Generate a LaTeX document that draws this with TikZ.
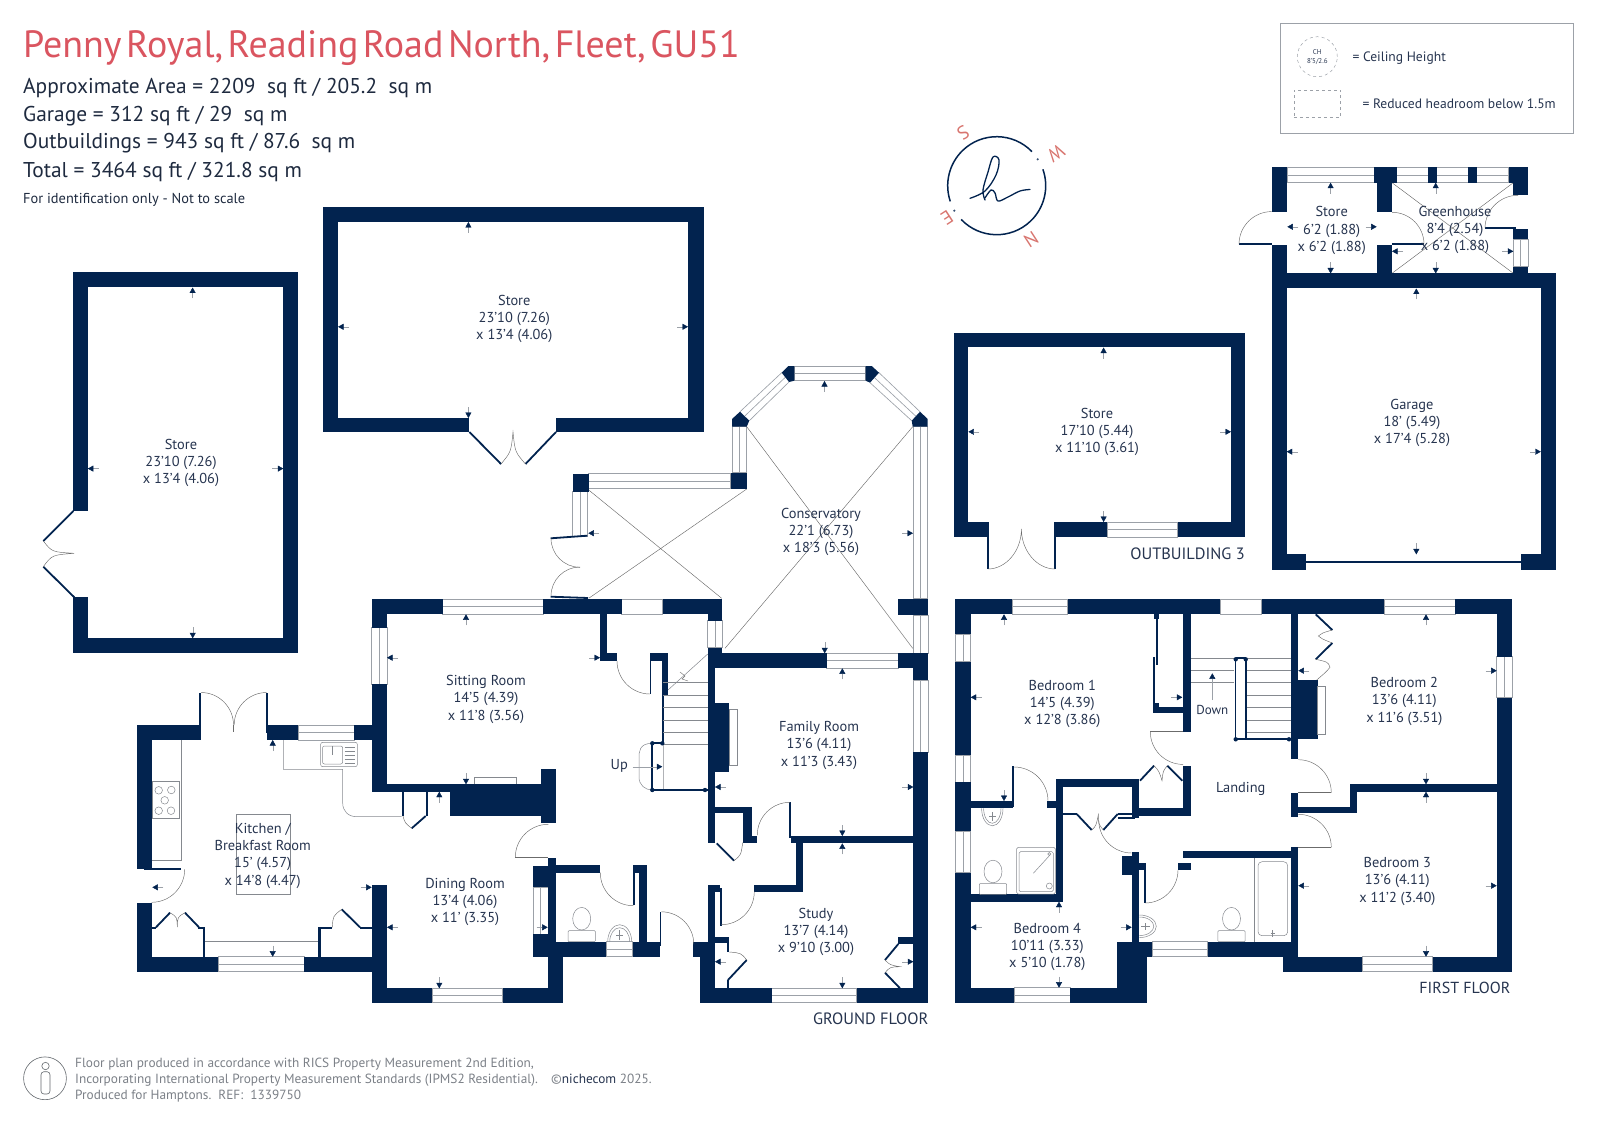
\documentclass[tikz,border=0pt]{standalone}
\usepackage{fontspec}
\setmainfont{PT Sans}
\newfontfamily\titlefont[WordSpace=0.45]{PT Sans}
\usetikzlibrary{arrows.meta}
\definecolor{navy}{HTML}{02234F}
\definecolor{mygrey}{HTML}{9CA1A8}
\definecolor{mytext}{HTML}{26344F}
\definecolor{myred}{HTML}{DA5560}
\definecolor{mypink}{HTML}{D8756F}
\definecolor{myfoot}{HTML}{7B8087}
\newcommand{\roomfont}{\fontsize{14.4}{17.2}\selectfont}
\begin{document}
\begin{tikzpicture}[x=1pt,y=-1pt]
\tikzstyle{mywall} = [fill=navy]
\tikzstyle{myglass} = [draw=mygrey, line width=0.65pt, fill=white]
\tikzstyle{mythin} = [draw=mygrey!85!black, line width=0.5pt]
\tikzstyle{myswing} = [draw=black!58, line width=0.45pt]
\tikzstyle{myleaf} = [draw=navy, line width=1.8pt]
\tikzstyle{mydim} = [draw=mygrey, line width=0.4pt, -{Stealth[inset=0pt,length=5.5pt,width=6pt,color=navy]}]
\tikzstyle{myroom} = [align=center, text=mytext, inner sep=0pt, yshift=-1.7pt, font=\roomfont]
\tikzstyle{myhead} = [anchor=base west, text=mytext!80!black, inner sep=0pt, font=\fontsize{21.4}{24}\selectfont]
\tikzstyle{myfloor} = [anchor=base east, text=mytext, inner sep=0pt, font=\fontsize{16.4}{19}\selectfont]
\tikzstyle{myfoot} = [anchor=base west, text=myfoot, inner sep=0pt, font=\fontsize{13.3}{15}\selectfont]
\tikzstyle{mykey} = [anchor=west, text=mytext, inner sep=0pt, font=\fontsize{13.6}{15}\selectfont]
\useasboundingbox (0,0) rectangle (1600,1131);

% header and key
\node[anchor=base west, text=myred, inner sep=0pt, font=\titlefont\fontsize{38}{40}\selectfont] (title) at (23,58) {Penny Royal, Reading Road North, Fleet, GU51};
\node[myhead] (area) at (23,94) {Approximate Area = 2209\ \ sq ft / 205.2\ \ sq m};
\node[myhead] (garagearea) at (23,122) {Garage = 312 sq ft / 29\ \ sq m};
\node[myhead] (outarea) at (23,149) {Outbuildings = 943 sq ft / 87.6\ \ sq m};
\node[myhead] (totalarea) at (23,177.5) {Total = 3464 sq ft / 321.8 sq m};
\node[myhead, font=\fontsize{14.4}{16}\selectfont] (noscale) at (23,203.5) {For identification only - Not to scale};
\draw[draw=mygrey, line width=0.8pt] (1280.7,23.3) rectangle (1573.3,133.3);
\node[circle, draw=mygrey, dashed, line width=0.5pt, minimum size=40pt, inner sep=0pt, align=center, text=mytext, font=\fontsize{7}{9}\selectfont] (ceiling) at (1317.3,56.7) {CH\\8'5/2.6};
\node[mykey] (ceilingtext) at (1352.3,58) {= Ceiling Height};
\node[draw=mygrey, dashed, line width=0.5pt, minimum width=46.7pt, minimum height=27.3pt, inner sep=0pt] (reduced) at (1317.3,103.7) {};
\node[mykey] (reducedtext) at (1362.3,103.5) {= Reduced headroom below 1.5m};

% logo
\draw[navy, line width=1.5pt] (996.7,185.7) ++(-44:49) arc[start angle=-44, end angle=-198.7, radius=49];
\draw[navy, line width=1.5pt] (996.7,185.7) ++(-223.6:49) arc[start angle=-223.6, end angle=-379.5, radius=49];
\fill[navy!80] (1037.7,159.3) circle (1.2) (954.3,210.7) circle (1.2);
\draw[navy, line width=1.3pt, line cap=round] plot[smooth, tension=0.6] coordinates {(970,198.3) (985,191) (996,175) (999,160) (993,157) (988,172) (983,190) (985,200)};
\draw[navy, line width=1.3pt, line cap=round] plot[smooth, tension=0.6] coordinates {(985,198) (991,190) (995,193) (998,201) (1008,197) (1020,191) (1030,189.5)};
\foreach \name/\lx/\ly/\lt in {ns/963.3/133.3/S, nw/1056/153.3/W, nn/1031/240/N, ne/947/218/E}
  \node[text=mypink, inner sep=0pt, rotate=-147, font=\fontsize{19}{21}\selectfont] (\name) at (\lx,\ly) {\lt};

% glazing with a centre line
\foreach \xa/\ya/\xb/\yb in {442.7/599.3/543.3/614.3, 826.7/653.3/898.3/668.3, 771.7/988.3/856.7/1002.7, 298.3/725/354.3/740, 218.3/956.7/304/971.7, 432.3/988.3/502.7/1002.7, 606/941.7/632.7/956.7, 794.3/366/865.7/380.7, 588.7/473.5/730.7/488.7, 1107/522/1177.6/537, 1287.3/167.3/1374/182.7, 1396.7/167.3/1508.7/182.7, 1012.3/599.3/1067.7/614.3, 1384/599.3/1455/614.3, 1362.3/956.7/1432.7/971.7, 1014/987.7/1070/1002.7, 1152/941.7/1207.7/956.7}
{
  \draw[myglass] (\xa,\ya) rectangle (\xb,\yb);
  \draw[myglass] (\xa,{(\ya+\yb)/2}) -- (\xb,{(\ya+\yb)/2});
}
\foreach \xa/\ya/\xb/\yb in {371.7/627.7/387/684.3, 533.3/887.3/548.3/934, 707.7/620.7/722.3/647.7, 732/426.7/746.7/472.7, 572.7/491.7/587.3/536, 913/426.7/927.7/598.3, 913.3/615/928/653.3, 913.3/680/928/752.3, 1513.3/239/1528.3/266.7, 955/634/970.7/661.7, 955/755/970.7/782.3, 955/831/970.7/872.7, 1496.7/656.7/1512.3/697.7}
{
  \draw[myglass] (\xa,\ya) rectangle (\xb,\yb);
  \draw[myglass] ({(\xa+\xb)/2},\ya) -- ({(\xa+\xb)/2},\yb);
}
\foreach \xa/\ya/\xb/\yb in {621.7/599.3/662.7/614.3, 1220/599.3/1261.7/614.3}
  \draw[myglass] (\xa,\ya) rectangle (\xb,\yb);
\draw[myglass] (781.7,372.7) -- (740,411.7) (785.3,377.3) -- (744.6,416.2) (789,382) -- (749.3,420.7);
\draw[myglass] (879,372.7) -- (920,411.7) (874.5,377.7) -- (915.8,416.2) (870,382.7) -- (911.7,420.7);
\draw[mythin] (205.3,941.7) -- (318,941.7);

% conservatory and greenhouse diagonals
\draw[myswing] (746.7,426.7) -- (912.7,648.3) (912.7,426.7) -- (725,648.3);
\draw[myswing] (588.7,490) -- (721.7,598.3) (746.7,489) -- (588.7,598.3);
\draw[myswing] (1392,182.7) -- (1513.3,273.3) (1392,273.3) -- (1513.3,182.7);

% outbuildings
\foreach \xa/\ya/\xb/\yb in {323/207/703.5/222, 323/207/338/432, 688/207/703.5/432, 323/418/469.4/432, 556/418/703.5/432,
  73/272/298.4/287.5, 73/272/87.8/511, 73/597.3/87.8/653.3, 283.3/272/298.4/653.3, 73/638.3/298.4/653.3,
  953.6/332.6/1245.4/347.5, 953.6/332.6/968.4/537, 1231/332.6/1245.4/537, 953.6/522/987.8/537, 1055/522/1107/537, 1177.6/522/1245.4/537, 987/522/988.5/569, 1054/522/1056/569,
  1271.5/273.5/1555.6/288.5, 1271.5/273.5/1286.7/569.7, 1540.8/273.5/1555.6/569.7, 1271.5/554.4/1306/569.7, 1521/554.4/1555.6/569.7, 1306/560.5/1521/563,
  1271.7/167.3/1287.3/211.7, 1271.7/245/1287.3/273.5, 1374/167.3/1396.7/182.7, 1376.7/167.3/1392/211.7, 1376.7/245/1392/273.5, 1428.3/167.3/1437.3/182.7, 1468.3/167.3/1477.3/182.7, 1508.7/167.3/1528.3/182.7, 1513.3/167.3/1528.3/195, 1513.3/229/1528.3/239, 1513.3/266.7/1528.3/275,
  572.7/474/588.7/491.7, 730.7/472.7/746.7/489}
  \fill[mywall] (\xa,\ya) rectangle (\xb,\yb);
\fill[mywall] (781.7,372.7) -- (788.3,366) -- (794.3,366) -- (794.3,380.7) -- (789,382) -- cycle;
\fill[mywall] (865.7,366) -- (871.7,366) -- (879,372.7) -- (870,382.7) -- (865.7,380.7) -- cycle;
\fill[mywall] (920,411.7) -- (927.7,419) -- (927.7,426.7) -- (912.7,426.7) -- (911.7,420.7) -- cycle;
\fill[mywall] (740,411.7) -- (749.3,420.7) -- (746.7,426.7) -- (732,426.7) -- (732,419) -- cycle;

% ground floor
\foreach \xa/\ya/\xb/\yb in {136.7/725/199.3/740, 136.7/725/151.7/869.3, 136.7/902.7/151.7/971.7, 136.7/956.7/218.3/971.7, 304/956.7/372.3/971.7, 267/725/298.3/740, 354.3/725/372/740, 198.7/692.7/201/740, 266/692.7/267.7/733, 151.7/927/156/929.3, 198/927/205.3/929.3, 202.7/927.3/205.3/956.7, 318/927.3/332.3/929.3, 318/927.3/320.7/956.7, 360/927.3/372/929.3,
  371.7/599.3/442.7/614.3, 371.7/599.3/387/627.7, 371.7/684.3/387/791.7, 372/784.3/541/791.7, 450/784.3/555.7/816, 541/769/555.7/823.3, 401.7/791.7/403.7/816, 425.7/791.7/427.7/816, 543.3/599.3/621.7/614.3, 662.7/599.3/722.3/614.3, 707.7/599.3/722.3/620.7, 600/614.3/607.3/653.3, 600/653.3/617.3/661, 650/653.3/668/661, 661.7/653.3/668/695, 661.7/695/663.7/743.3, 650/658/651.3/694,
  371.7/885/387/1002.7, 372/988.3/432.3/1002.7, 502.7/988.3/563.3/1002.7, 548.3/950/562.7/1002.7, 548.3/857.7/555.7/956.7, 533.3/866/555.7/887.3, 533.3/934/555.7/956.7,
  555.7/865.3/600/872.7, 633.3/865.3/646.7/872.7, 639.3/865.3/646.7/956.7, 633.3/865.3/635.3/905.3, 555.7/941.7/606/956.7, 632.7/941.7/660/956.7, 660/911.7/661.3/946,
  898.3/599.3/928/615, 898.3/653.3/928/668.3, 913.3/653.3/928/680, 913.3/752.3/928/1002.7, 707.7/647.7/722.3/668.3, 707.7/653.3/826.7/668.3, 707.7/668.3/715/842.7, 715/703.3/729.3/771.7, 715/806.7/751.7/813.3, 743.3/806.7/751.7/842.7, 743.3/836/756.7/842.7, 790.7/836/913.3/843.3, 789.3/802.3/791.3/838, 796/843/802.7/891.7, 754.3/885/802.7/891.7, 707.7/885/715/1002.7, 707.7/885/720/891.7, 720/888/722/925.7, 715/936.7/729.3/943.3, 727.3/936.7/729.3/952, 727.3/980/729.3/988.3, 693.3/941.7/715/956.7, 700/941.7/715/1002.7, 700/988.3/771.7/1002.7, 856.7/988.3/928/1002.7, 898.3/936.7/913.3/944}
  \fill[mywall] (\xa,\ya) rectangle (\xb,\yb);

% first floor
\foreach \xa/\ya/\xb/\yb in {955/599.3/1012.3/614.3, 1067.7/599.3/1220/614.3, 1261.7/599.3/1384/614.3, 1455/599.3/1512.3/614.3, 1496.7/599.3/1512.3/656.7, 1496.7/697.7/1512.3/971.7, 1283.3/956.7/1362.3/971.7, 1432.7/956.7/1512.3/971.7,
  955/599.3/970.7/634, 955/661.7/970.7/755, 955/782.3/970.7/831, 955/872.7/970.7/1002.7, 955/987.7/1014/1002.7, 1070/987.7/1146.7/1002.7, 1116.7/941.7/1146.7/1002.7, 1131.7/941.7/1152/956.7, 1207.7/941.7/1298.3/956.7, 1283.3/941.7/1298.3/971.7,
  1131.7/852.3/1139.3/941.7, 1122/855.7/1139.3/875, 1139.3/862.7/1145/870, 1144/863/1146/903, 1178/862.7/1191/870, 1183.3/850.7/1298.3/858, 1291/847.3/1298.3/941.7,
  1291/614.3/1298.3/759.3, 1293.3/680/1317.7/739.3, 1291/793.3/1298.3/816.7, 1291/806.7/1357.3/813.3, 1350/784.3/1357.3/813.3, 1350/784.3/1496.7/791.7,
  1182.7/614.3/1191/731.7, 1182.7/765.7/1191/816, 1131.7/808.3/1191/816, 1132.3/779/1139/818, 1056/779/1139/787.3, 1056/779/1063.3/901.7, 970.7/894.3/1063.3/901.7, 970.7/801/1013.3/808.3, 1012.3/765.7/1014/806.7, 1047.3/801/1056/808.3,
  1154/614.3/1158.7/619, 1156/619/1157.7/665, 1153.3/657.3/1155.3/703.3, 1153.3/703.3/1158.7/708.3, 1153.3/707.3/1182.7/712.7}
  \fill[mywall] (\xa,\ya) rectangle (\xb,\yb);

% door leaves
\foreach \xa/\ya/\xb/\yb in {469.4/432/501/464, 556/432/525.5/464, 73.3/511/43.3/541, 43.3/566.7/74.3/597.3, 550.7/538.3/587.3/535.7, 550.7/596.7/588/598, 1239.3/244.3/1271.7/244.3, 1392/244.3/1423.5/244.3, 1485/228.3/1516/228.3,
  144/869/181/869, 156/927.3/170/912.7, 185/912.7/199/927.3, 360/927.3/341.7/909.3, 425.7/816/411.7/828.3, 716.7/843.3/734/860.7, 746.7/960/728/980, 898.3/944/885/960, 885/972.7/900/988.3,
  1315.7/614.3/1332.3/630, 1332.3/643/1315.7/659.3, 1140/780.7/1154/765.7, 1182.3/780.7/1167.3/765.7, 1063.3/814/1076.7/814, 1076.7/814/1091.7/830, 1103.3/830/1117.7/814, 1117.7/814/1131.7/814, 1117.7/818.3/1135/818.3}
  \draw[myleaf] (\xa,\ya) -- (\xb,\yb);

% door swings
\foreach \cx/\cy/\aa/\ab/\rr in {201/725/270/360/32.5, 266.7/725/270/180/32.5, 151.7/869.3/0/90/33, 548.3/857.3/270/180/33, 633.3/872.7/180/90/33, 661.3/944.3/270/360/32.5, 650/661/180/90/33, 790/835/270/180/32.7, 721.3/891.7/90/0/33,
  1183/731.7/180/90/32.7, 1014/801/270/360/34, 1131.7/820/180/90/33, 1145/870/0/90/33, 1298.3/792.7/270/360/33, 1298.3/847.3/270/360/33, 1271.7/244.3/270/180/32.7, 1392/244.3/270/360/32, 1518/228.3/270/180/33, 580/538.3/180/90/29, 580/596/180/270/29}
  \draw[myswing] (\cx,\cy) ++(\aa:\rr) arc[start angle=\aa, end angle=\ab, radius=\rr];
\draw[myswing] (515.3,857.3) -- (548.3,857.3) (1150,731.7) -- (1183,731.7) (1298.3,792.7) -- (1331.3,792.7) (1298.3,847.3) -- (1331.3,847.3);
\draw[myswing] (233.5,725) -- (233.5,732);
\draw[myswing] (501,464) .. controls (511,452) .. (513,432) .. controls (515,452) .. (525.5,464);
\draw[myswing] (43.3,541) .. controls (52,552) .. (74,553.3) .. controls (52,555) .. (43.3,566.7);
\draw[myswing] (987.8,569) .. controls (1006,569) and (1021.4,551) .. (1021.4,529) .. controls (1021.4,551) and (1037,569) .. (1055,569);
\draw[myswing] (170,912.7) .. controls (177,917) .. (177.3,927) .. controls (177.5,917) .. (185,912.7);
\draw[myswing] (332.3,927.3) .. controls (333,916) .. (341.7,909.3);
\draw[myswing] (403,816) .. controls (405,823) .. (411.7,828.3);
\draw[myswing] (734,860.7) .. controls (741,855) .. (742.7,842.7);
\draw[myswing] (729.3,952) .. controls (741,953) .. (746.7,960);
\draw[myswing] (885,960) .. controls (890,965) .. (900,966.7) .. controls (890,967) .. (885,972.7);
\draw[myswing] (1332.3,630) .. controls (1322,633) .. (1318.3,636) .. controls (1322,639) .. (1332.3,643);
\draw[myswing] (1315.7,659.3) .. controls (1328,662) .. (1330,667.3) .. controls (1326,672) .. (1316.7,680);
\draw[myswing] (1154,765.7) .. controls (1159,771) .. (1162,780.7) .. controls (1163,771) .. (1167.3,765.7);
\draw[myswing] (1091.7,830) .. controls (1096,826) .. (1098.3,815) .. controls (1098.5,824) .. (1103.3,830);

% stairs
\foreach \yy in {682.7,695,707.3,720,732.3,744.3}
  \draw[mythin] (663,\yy) -- (707.7,\yy);
\draw[mythin] (663.3,744) -- (663.3,790) (668,690) -- (707.7,654);
\draw[mythin] (652.3,743.3) .. controls (639,743.3) and (639,752) .. (639,758) -- (639,777) .. controls (639,785) and (645,790) .. (652.3,790);
\draw[myswing] (680,672) -- (685,676) -- (682,679) -- (688,681);
\draw[myleaf] (652.3,743.3) -- (662.3,743.3) (652.3,743.3) -- (652.3,790) -- (707.7,790);
\fill[navy] (652.3,743.3) circle (2.2) (662.3,743.3) circle (2.2) (652.3,790) circle (2.2) (705,790) circle (2.2);
\foreach \yy in {658.3,670.7,682.7}
  \draw[mythin] (1191,\yy) -- (1234.3,\yy);
\foreach \yy in {658.3,670.7,682.7,695,707.3,720,732.3}
  \draw[mythin] (1246.7,\yy) -- (1291,\yy);
\draw[myleaf] (1235.5,658.3) -- (1235.5,739.3) -- (1289.3,739.3) (1245.7,658.3) -- (1245.7,739.3) (1235.5,658.3) -- (1245.7,658.3);
\fill[navy] (1235.7,659.3) circle (2.2) (1245.7,659.3) circle (2.2) (1235.7,739.3) circle (2.2) (1289,739.3) circle (2.2);
\draw[mydim] (632.7,766.7) -- (662.3,766.7);
\draw[mydim] (1212.3,700) -- (1212.3,673.3);
\node[myroom, yshift=1.7pt] (up) at (619.3,765.7) {Up};
\node[myroom, yshift=1.7pt, font=\fontsize{13}{15}\selectfont] (down) at (1212.3,709.5) {Down};

% fittings
\draw[mythin] (283.3,740) -- (283.3,769.3) -- (342.7,769.3) -- (342.7,803) .. controls (342.7,811) and (348,816.7) .. (356.7,816.7) -- (401.7,816.7);
\draw[mythin] (181,740) -- (181,860.7) -- (151.7,860.7);
\draw[mythin] (152.3,781.7) rectangle (179,818.3);
\foreach \rx/\ry in {158.7/790.3,171.3/790,164.7/800.3,158.7/810.7,171/810.7}
  \draw[mythin] (\rx,\ry) circle (3.8);
\draw[mythin, rounded corners=2pt] (320.7,742.3) rectangle (357.3,766.7);
\draw[mythin, rounded corners=2pt] (322.5,746) rectangle (342.7,764);
\foreach \yy in {747.3,751.3,755.3,759.3,763.3}
  \draw[mythin] (344.5,\yy) -- (355,\yy);
\draw[mythin] (332,746) -- (332,755);
\draw[mythin] (236.7,814.3) rectangle (290.7,894.3);
\draw[mythin] (729.3,709.3) rectangle (737.3,765);
\draw[mythin] (474.3,784.3) -- (474.3,777) -- (516.7,777) -- (516.7,784.3);
\draw[mythin] (1317.7,686.7) rectangle (1325.7,734);
\draw[mythin] (1254,858) -- (1254,941.7);
\draw[mythin, rounded corners=4pt] (1258,861.7) rectangle (1287.7,935.7);
\draw[mythin] (1272.7,930) -- (1272.7,937) (1270.5,933) -- (1275,933);
\foreach \tx/\ty in {581.7/918.7, 1231.5/918.7, 993/871.5}
{
  \draw[mythin] (\tx,\ty) ellipse (9 and 11.3);
  \draw[mythin, rounded corners=1pt] (\tx-13.7,\ty+12) rectangle (\tx+13.7,\ty+23);
}
\draw[mythin] (607.7,941.7) arc[start angle=180, end angle=360, x radius=12, y radius=17];
\draw[mythin] (609.7,941.7) arc[start angle=180, end angle=360, x radius=10, y radius=14];
\draw[mythin] (619.7,930) -- (619.7,940) (616,935) -- (623,935);
\draw[mythin] (981.6,808.3) arc[start angle=180, end angle=0, x radius=10.7, y radius=17.5];
\draw[mythin] (983.6,808.3) arc[start angle=180, end angle=0, x radius=8.7, y radius=15];
\draw[mythin] (992.3,812) -- (992.3,821) (989,816) -- (996,816);
\draw[mythin] (1139.3,915) arc[start angle=270, end angle=450, x radius=17, y radius=11.3];
\draw[mythin] (1139.3,917) arc[start angle=270, end angle=450, x radius=14.5, y radius=9.3];
\draw[mythin] (1141,926.3) -- (1150,926.3) (1145,923) -- (1145,930);
\draw[mythin, rounded corners=1.5pt] (1016.7,847.3) rectangle (1055.3,894);
\draw[mythin, rounded corners=1.5pt] (1019,851.7) rectangle (1053.3,891.7);
\draw[mythin] (1033.3,873.3) -- (1050,855);
\draw[mythin] (1049.3,854) circle (1.5) (1049.3,886) circle (3);

% dimension arrows: tip, then the side the shaft lies on
\foreach \dx/\dy/\da in {468.4/222/90, 338/326.8/0, 688/326.8/180, 468.4/418/270,
  192.6/287.5/90, 87.8/468.6/0, 283.3/468.6/180, 192.7/638.3/270,
  1103.6/347.5/90, 968.4/431.8/0, 1231/431.8/180, 1103.6/522/270,
  1416.3/288.5/90, 1286.7/451.7/0, 1540.8/451.7/180, 1416.3/554.4/270,
  1330.6/182.7/90, 1287.3/226.8/0, 1376.7/226.8/180, 1330.6/273.5/270,
  1435.7/182.7/90, 1392/251.3/0, 1513.3/251.3/180, 1435.7/273.5/270,
  824.5/381/90, 588.3/533.2/0, 913/533.2/180, 824.7/653.3/270,
  466/614.3/90, 387/657.7/0, 600/657.7/180, 466/784.3/270,
  272.7/740/90, 152.3/887.3/0, 371.7/887.3/180, 272.7/956.7/270,
  439.3/791.7/90, 387/927.3/0, 547.7/927.3/180, 439.3/988.3/270,
  842.3/668.3/90, 715/787/0, 913.3/787/180, 842.3/836/270,
  842.3/843.3/90, 715/961.7/0, 913.3/961.7/180, 842.3/988.3/270,
  1004/614.3/90, 970.7/697.3/0, 1182.3/697.3/180, 1004/801/270,
  1059/901.7/90, 970.7/927.3/0, 1131.7/927.3/180, 1059/987.7/270,
  1426/614.3/90, 1298.3/670.7/0, 1496.7/670.7/180, 1426/784.3/270,
  1426/791.7/90, 1298.3/885.7/0, 1496.7/885.7/180, 1426/956.7/270}
  \draw[mydim] (\dx,\dy) ++(\da:11) -- (\dx,\dy);

% room labels
\node[myroom] (storeone) at (514.3,317) {Store\\23'10 (7.26)\\x 13'4 (4.06)};
\node[myroom] (storetwo) at (181,461) {Store\\23'10 (7.26)\\x 13'4 (4.06)};
\node[myroom] (storethree) at (1097,430.5) {Store\\17'10 (5.44)\\x 11'10 (3.61)};
\node[myroom] (garage) at (1412,421.5) {Garage\\18' (5.49)\\x 17'4 (5.28)};
\node[myroom] (storefour) at (1331.7,228.8) {Store\\6'2 (1.88)\\x 6'2 (1.88)};
\node[myroom] (greenhouse) at (1455,228) {Greenhouse\\8'4 (2.54)\\x 6'2 (1.88)};
\node[myroom] (conservatory) at (821,530) {Conservatory\\22'1 (6.73)\\x 18'3 (5.56)};
\node[myroom] (sitting) at (486,697.7) {Sitting Room\\14'5 (4.39)\\x 11'8 (3.56)};
\node[myroom] (kitchen) at (262.7,854) {Kitchen /\\Breakfast Room\\15' (4.57)\\x 14'8 (4.47)};
\node[myroom] (dining) at (465,900) {Dining Room\\13'4 (4.06)\\x 11' (3.35)};
\node[myroom] (family) at (819,743.7) {Family Room\\13'6 (4.11)\\x 11'3 (3.43)};
\node[myroom] (study) at (816,930) {Study\\13'7 (4.14)\\x 9'10 (3.00)};
\node[myroom] (bedone) at (1062.3,702.3) {Bedroom 1\\14'5 (4.39)\\x 12'8 (3.86)};
\node[myroom] (bedtwo) at (1404.3,699.7) {Bedroom 2\\13'6 (4.11)\\x 11'6 (3.51)};
\node[myroom] (bedthree) at (1397.3,879.7) {Bedroom 3\\13'6 (4.11)\\x 11'2 (3.40)};
\node[myroom] (bedfour) at (1047.3,945) {Bedroom 4\\10'11 (3.33)\\x 5'10 (1.78)};
\node[myroom] (landing) at (1240.7,787.7) {Landing};
\node[myfloor] (outbuilding) at (1245,559.5) {OUTBUILDING 3};
\node[myfloor] (ground) at (928.5,1024.5) {GROUND FLOOR};
\node[myfloor, font=\fontsize{16}{19}\selectfont] (first) at (1510.5,993) {FIRST FLOOR};

% footer
\draw[myfoot!80!black, line width=0.6pt] (45,1078.3) circle (21.4);
\draw[myfoot!80!black, line width=0.6pt] (45.5,1066) circle (3.7);
\draw[myfoot!80!black, line width=0.6pt, rounded corners=3pt] (41,1071.7) rectangle (50,1094);
\node[myfoot] (footone) at (75,1067) {Floor plan produced in accordance with RICS Property Measurement 2nd Edition,};
\node[myfoot] (foottwo) at (75,1083) {Incorporating International Property Measurement Standards (IPMS2 Residential).};
\node[myfoot] (footthree) at (75,1099.5) {Produced for Hamptons.\ \ REF:\ \ 1339750};
\node[myfoot] (niche) at (551,1083) {©\textcolor{mytext}{nichecom} 2025.};
\end{tikzpicture}
\end{document}
